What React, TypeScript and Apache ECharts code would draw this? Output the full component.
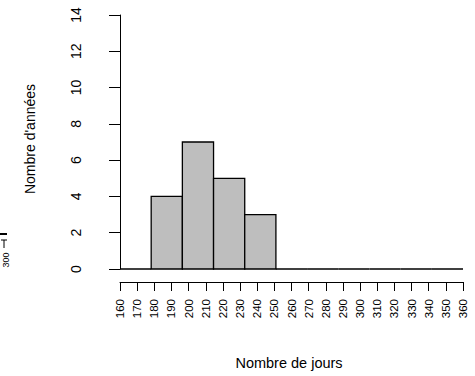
import React, { useEffect, useRef } from "react";
import * as echarts from "echarts";

// Histogram bins (bar index) and counts
const binCounts: number[] = [0, 4, 7, 5, 3, 0, 0, 0, 0, 0, 0];
// Axis ranges / tick steps
const dayMin = 160;
const dayMax = 360;
const dayStep = 10;
const yearMin = 0;
const yearMax = 14;
const yearStep = 2;
const xTitle = "Nombre de jours";
const yTitle = "Nombre d'années";
const strayLabel = "300";

const FONT = "Liberation Sans, Arial, Helvetica, sans-serif";

export default function App() {
  const ref = useRef<HTMLDivElement>(null);
  useEffect(() => {
    if (!ref.current) return;
    const chart = echarts.init(ref.current, null, { renderer: "svg" });
    const data = binCounts.map((c, i) => [i, i + 1, c]);
    chart.setOption({
      animation: false,
      backgroundColor: "#ffffff",
      textStyle: { fontFamily: FONT, color: "#000" },
      grid: { left: 120, right: 12, top: 15, bottom: 107, containLabel: false },
      xAxis: [
        { type: "value", min: 0, max: binCounts.length, show: false },
        {
          type: "value",
          min: dayMin,
          max: dayMax,
          interval: dayStep,
          position: "bottom",
          offset: 13,
          axisLine: { show: true, lineStyle: { color: "#000", width: 1 } },
          axisTick: { show: true, length: 9, lineStyle: { color: "#000", width: 1 } },
          axisLabel: {
            rotate: 90,
            fontSize: 11.5,
            margin: 17,
            color: "#000",
            fontFamily: FONT,
            showMinLabel: true,
            showMaxLabel: true,
          },
          splitLine: { show: false },
        },
      ],
      yAxis: {
        type: "value",
        min: yearMin,
        max: yearMax,
        interval: yearStep,
        offset: 14,
        axisLine: { show: true, lineStyle: { color: "#000", width: 1 } },
        axisTick: { show: true, length: 11, lineStyle: { color: "#000", width: 1 } },
        axisLabel: {
          rotate: 90,
          fontSize: 14,
          margin: 23,
          color: "#000",
          fontFamily: FONT,
        },
        splitLine: { show: false },
      },
      series: [
        {
          type: "custom",
          xAxisIndex: 0,
          yAxisIndex: 0,
          data,
          renderItem: (params: any, api: any) => {
            const x0 = api.value(0);
            const x1 = api.value(1);
            const v = api.value(2);
            const p0 = api.coord([x0, 0]);
            const p1 = api.coord([x1, v]);
            if (v === 0) {
              return {
                type: "line",
                shape: { x1: p0[0], y1: p0[1], x2: p1[0], y2: p0[1] },
                style: { stroke: "#000", lineWidth: 1.5 },
              };
            }
            return {
              type: "rect",
              shape: { x: p0[0], y: p1[1], width: p1[0] - p0[0], height: p0[1] - p1[1] },
              style: { fill: "#bebebe", stroke: "#000", lineWidth: 1.3 },
            };
          },
        },
      ],
      graphic: [
        {
          type: "text",
          x: 289,
          y: 363,
          style: {
            text: xTitle,
            fontSize: 14.5,
            fontFamily: FONT,
            fill: "#000",
            align: "center",
            verticalAlign: "middle",
          },
        },
        {
          type: "text",
          x: 29.5,
          y: 139,
          rotation: Math.PI / 2,
          style: {
            text: yTitle,
            fontSize: 14,
            fontFamily: FONT,
            fill: "#000",
            align: "center",
            verticalAlign: "middle",
          },
        },
        {
          type: "line",
          shape: { x1: 0, y1: 234, x2: 7, y2: 234 },
          style: { stroke: "#000", lineWidth: 2 },
        },
        {
          type: "line",
          shape: { x1: 1, y1: 240, x2: 7, y2: 240 },
          style: { stroke: "#000", lineWidth: 1 },
        },
        {
          type: "line",
          shape: { x1: 4, y1: 240, x2: 4, y2: 248 },
          style: { stroke: "#000", lineWidth: 1 },
        },
        {
          type: "text",
          x: 5.5,
          y: 260,
          rotation: Math.PI / 2,
          style: {
            text: strayLabel,
            fontSize: 9,
            fontFamily: FONT,
            fill: "#000",
            align: "center",
            verticalAlign: "middle",
          },
        },
      ],
    });
    return () => chart.dispose();
  }, []);
  return (
    <div
      ref={ref}
      style={{ position: "fixed", left: 0, top: 0, width: 475, height: 376, background: "#fff" }}
    />
  );
}
